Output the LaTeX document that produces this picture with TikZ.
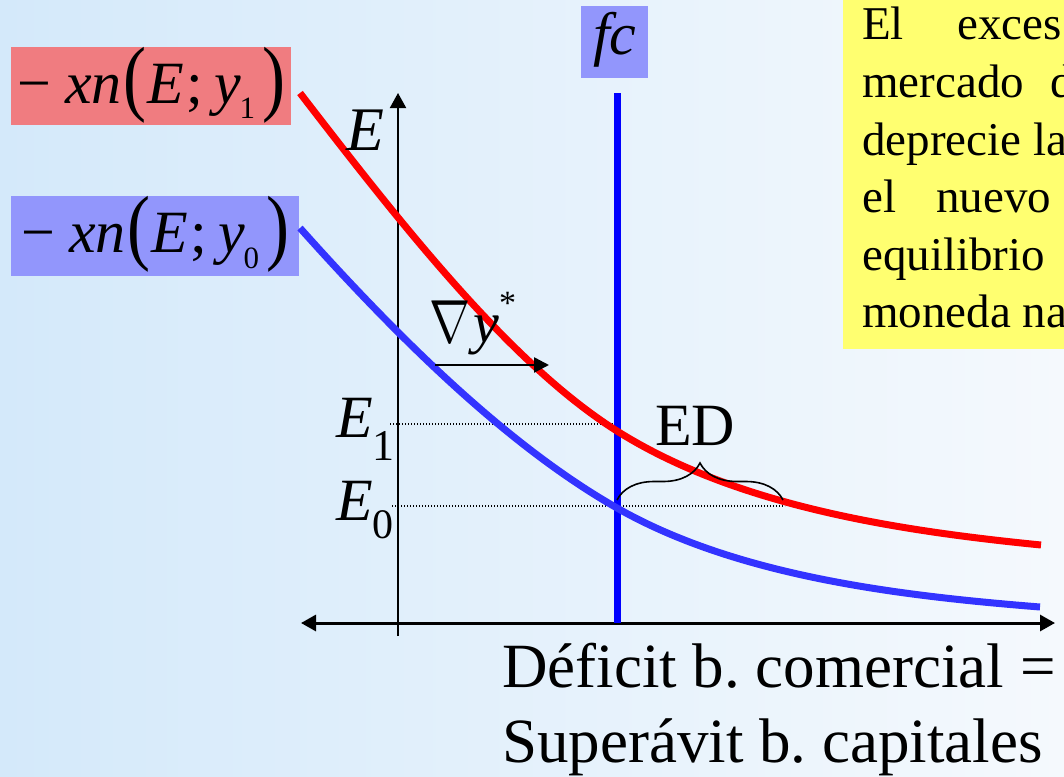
\RequirePackage{fix-cm}
\documentclass[tikz,border=0pt]{standalone}
\usepackage{fontspec}
\setmainfont{Liberation Serif}
\usetikzlibrary{arrows.meta,decorations.pathreplacing}

\definecolor{fondoizq}{RGB}{212,233,250}
\definecolor{fondoder}{RGB}{245,249,253}
\definecolor{rojoet}{RGB}{240,124,128}
\definecolor{azulet}{RGB}{146,150,252}
\definecolor{amarillo}{RGB}{255,255,112}
\definecolor{azulcurva}{RGB}{51,51,255}

\newcommand{\tam}[1]{\fontsize{#1}{#1}\selectfont}
\newcommand{\parg}[1]{\raisebox{-2pt}{\scalebox{1.15}[1.4]{#1}}}
\newcommand{\xnlabel}[2]{−\hspace{14pt}\textit{xn}\hspace{2pt}\parg{(}\hspace{1pt}\textit{E}\hspace{2pt};\hspace{11pt}\textit{y}\hspace{-1pt}\raisebox{#2}{\tam{31}#1}\hspace{7pt}\parg{)}}

\begin{document}
\begin{tikzpicture}[
      x=1pt, y=-1pt,
      etiqueta/.style={inner xsep=4pt, inner ysep=0pt, anchor=west,
                       text height=56pt, font=\tam{60}},
      curva/.style={line width=7pt},
      punta/.style={-{Triangle[length=15pt,width=16pt]}},
      guia/.style={line width=1.2pt, dash pattern=on 1.2pt off 1.8pt},
      texto/.style={inner sep=0pt, anchor=base west}
    ]
    \useasboundingbox (0,0) rectangle (1064,776);
    \clip (0,0) rectangle (1064,776);
    \shade[left color=fondoizq, right color=fondoder] (0,0) rectangle (1064,776);

    % etiquetas de las curvas
    \node[etiqueta, fill=rojoet, text depth=22pt, minimum width=280pt] (xnuno) at (11,86) {\xnlabel{1}{-15pt}};
    \node[etiqueta, fill=azulet, text depth=24pt, minimum width=288pt] (xncero) at (11,236) {\xnlabel{0}{-16pt}};
    \node[etiqueta, fill=azulet, text height=49pt, text depth=23pt, inner xsep=0pt,
          minimum width=67pt] (fc) at (581,42) {\textit{fc}};

    % recuadro amarillo
    \fill[amarillo] (843,0) rectangle (1070,349);
    \node[texto, font=\tam{47}] (l1a) at (862,40)  {El};
    \node[texto, font=\tam{47}] (l1b) at (957,40)  {exces};
    \node[texto, font=\tam{47}] (l2a) at (862,97)  {mercado};
    \node[texto, font=\tam{47}] (l2b) at (1050,97) {d};
    \node[texto, font=\tam{47}] (l3)  at (862,155) {deprecie la};
    \node[texto, font=\tam{47}] (l4a) at (862,212) {el};
    \node[texto, font=\tam{47}] (l4b) at (936,212) {nuevo};
    \node[texto, font=\tam{47}] (l5)  at (862,270) {equilibrio};
    \node[texto, font=\tam{47}] (l6)  at (862,327) {moneda na};

    % ejes
    \coordinate (ejeyarr) at (398,93);
    \coordinate (ejeyab)  at (398,636);
    \coordinate (ejexizq) at (301,623);
    \coordinate (ejexder) at (1055,623);
    \coordinate (fcarr) at (617,93);
    \coordinate (fcab)  at (617,623);
    \draw[line width=2pt, punta] (ejeyab) -- (ejeyarr);
    \draw[line width=3pt, {Triangle[length=15pt,width=16pt]}-{Triangle[length=15pt,width=16pt]}] (ejexizq) -- (ejexder);

    % niveles de equilibrio
    \coordinate (e1ini) at (390,424);
    \coordinate (e1fin) at (617,424);
    \coordinate (e0ini) at (392,506);
    \coordinate (e0fin) at (785,506);
    \draw[guia] (e1ini) -- (e1fin);
    \draw[guia] (e0ini) -- (e0fin);

    \draw[line width=7pt, blue] (fcarr) -- (fcab);

    % curvas -xn
    \draw[curva, azulcurva] (300,228) .. controls (405,345.6) and (512,448.2) .. (617,508)
      .. controls (737,576.4) and (899,595.7) .. (1040,607);
    \draw[curva, red] (300,93) .. controls (405,229.5) and (512,364.8) .. (617,431)
      .. controls (737,506.6) and (900,530.9) .. (1041,545);

    % desplazamiento
    \coordinate (flini) at (435,365);
    \coordinate (flfin) at (549,365);
    \draw[line width=2.5pt, -{Triangle[length=15pt,width=15pt]}] (flini) -- (flfin);

    \coordinate (llaveizq) at (617,500);
    \coordinate (llaveder) at (783,500);
    \draw[line width=1.6pt, decorate, decoration={brace, amplitude=37pt}] (llaveizq) -- (llaveder);

    % textos
    \node[texto, font=\tam{60}] (ed) at (655,445) {ED};
    \node[texto, font=\tam{62}\itshape] (etiqE) at (346,150) {E};
    \node[texto, font=\tam{60}] (etiqEuno) at (336,437) {\textit{E}\raisebox{-23pt}{\tam{44}1}};
    \node[texto, font=\tam{60}] (etiqEcero) at (336,520) {\textit{E}\raisebox{-18pt}{\tam{42}0}};
    \node[texto, font=\tam{58}] (nabla) at (429,342) {\scalebox{0.85}[1.05]{$\nabla$}\hspace{3pt}\textit{y}\raisebox{28pt}{\tam{34}*}};
    \node[texto, font=\tam{63}] (deficit) at (502,687) {Déficit b.\ comercial =};
    \node[texto, font=\tam{63}] (superavit) at (502,762) {Superávit b.\ capitales};
  \end{tikzpicture}
\end{document}
